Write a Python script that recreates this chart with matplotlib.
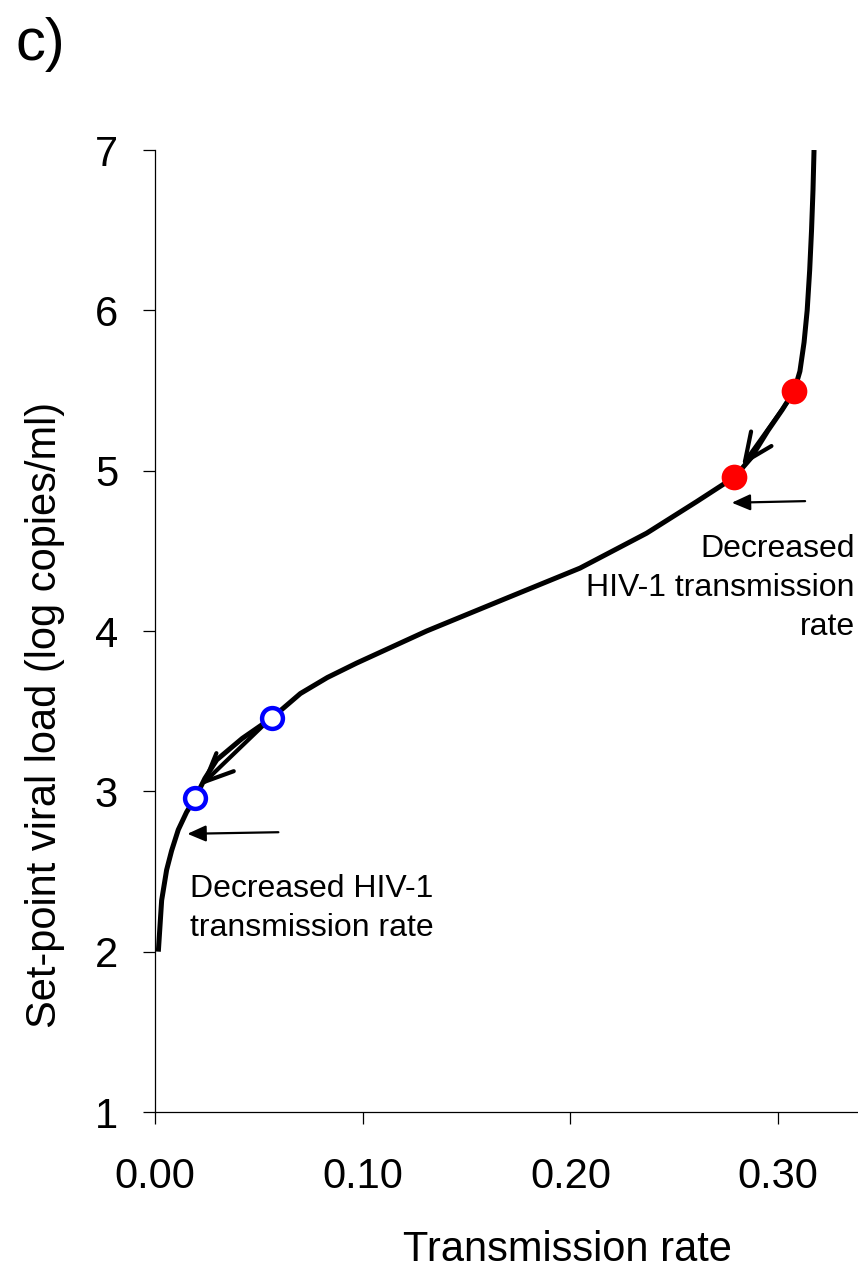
import matplotlib
matplotlib.use("Agg")
import matplotlib.pyplot as plt
from matplotlib.patches import FancyArrowPatch

plt.rcParams['font.family'] = ['Liberation Sans', 'DejaVu Sans']

# Curve data (transmission rate vs set-point viral load)
curve_x = [0.0016, 0.0032, 0.0056, 0.0080, 0.0112, 0.0152, 0.0193, 0.0240, 0.0297,
           0.0420, 0.0565, 0.0700, 0.0830, 0.0971, 0.1308, 0.1693, 0.2046, 0.2367,
           0.2608, 0.2790, 0.2870, 0.2951, 0.3020, 0.3078, 0.3105, 0.3125, 0.3140,
           0.3152, 0.3161, 0.3168, 0.3173]
curve_y = [2.00, 2.32, 2.51, 2.63, 2.76, 2.87, 2.957, 3.08, 3.196,
           3.33, 3.46, 3.61, 3.71, 3.80, 4.00, 4.205, 4.392, 4.61,
           4.807, 4.96, 5.08, 5.25, 5.38, 5.50, 5.62, 5.80, 6.00,
           6.25, 6.50, 6.75, 7.00]

red_x = [0.3078, 0.2790]
red_y = [5.50, 4.96]
blue_x = [0.0565, 0.0193]
blue_y = [3.46, 2.957]

# movement arrows (start -> end)
move_arrows = [((0.3057, 5.45), (0.2826, 5.03)),
               ((0.0539, 3.433), (0.0222, 3.038))]
# pointer arrows (start -> end)
point_arrows = [((0.313, 4.81), (0.2777, 4.80)),
                ((0.0594, 2.745), (0.0156, 2.735))]

xticks = [0.0, 0.1, 0.2, 0.3]
xticklabels = ["0.00", "0.10", "0.20", "0.30"]
yticks = [1, 2, 3, 4, 5, 6, 7]

W, H = 858, 1280
fig = plt.figure(figsize=(W / 100, H / 100), dpi=100)
left = 155 / W
bottom = 1 - 1112 / H
top = 1 - 150 / H
ax = fig.add_axes([left, bottom, 1 - left, top - bottom])

ax.plot(curve_x, curve_y, color='black', lw=3.6, solid_joinstyle='round',
        solid_capstyle='butt', zorder=3)

for (s, e) in move_arrows:
    ax.add_patch(FancyArrowPatch(s, e, arrowstyle='->,head_length=1.35,head_width=0.6',
                                 mutation_scale=15, lw=3.0, color='black', zorder=4,
                                 shrinkA=0, shrinkB=0))
for (s, e) in point_arrows:
    ax.add_patch(FancyArrowPatch(s, e, arrowstyle='-|>,head_length=0.8,head_width=0.35',
                                 mutation_scale=14, lw=1.6, color='black', zorder=4,
                                 shrinkA=0, shrinkB=0))

ax.plot(red_x, red_y, 'o', color='#ff0000', ms=18.5, mec='#ff0000', mew=0, zorder=5)
ax.plot(blue_x, blue_y, 'o', mfc='white', mec='#0000ff', ms=15, mew=3.2, zorder=5)

ax.text(0.337, 4.27, "Decreased\nHIV-1 transmission\nrate", ha='right', va='center',
        multialignment='right', fontsize=23, linespacing=1.4)
ax.text(0.0169, 2.27, "Decreased HIV-1\ntransmission rate", ha='left', va='center',
        multialignment='left', fontsize=23, linespacing=1.4)

ax.set_xlim(0, (W - 155) / 2077)
ax.set_ylim(1, 7)
ax.set_xticks(xticks)
ax.set_xticklabels(xticklabels)
ax.set_yticks(yticks)
for sp in ['top', 'right']:
    ax.spines[sp].set_visible(False)
for sp in ['left', 'bottom']:
    ax.spines[sp].set_linewidth(0.9)
ax.tick_params(axis='both', direction='out', length=8.6, width=0.9, labelsize=30)
ax.tick_params(axis='y', pad=18)
ax.tick_params(axis='x', pad=24)

fig.text(45 / W, 1 - 715 / H, "Set-point viral load (log copies/ml)", rotation=90,
         ha='center', va='center', fontsize=30)
fig.text(567 / W, 1 - 1250 / H, "Transmission rate", ha='center', va='center', fontsize=30)
fig.text(15 / W, 1 - 45 / H, "c)", ha='left', va='center', fontsize=43)

fig.savefig("out.png", dpi=100)
